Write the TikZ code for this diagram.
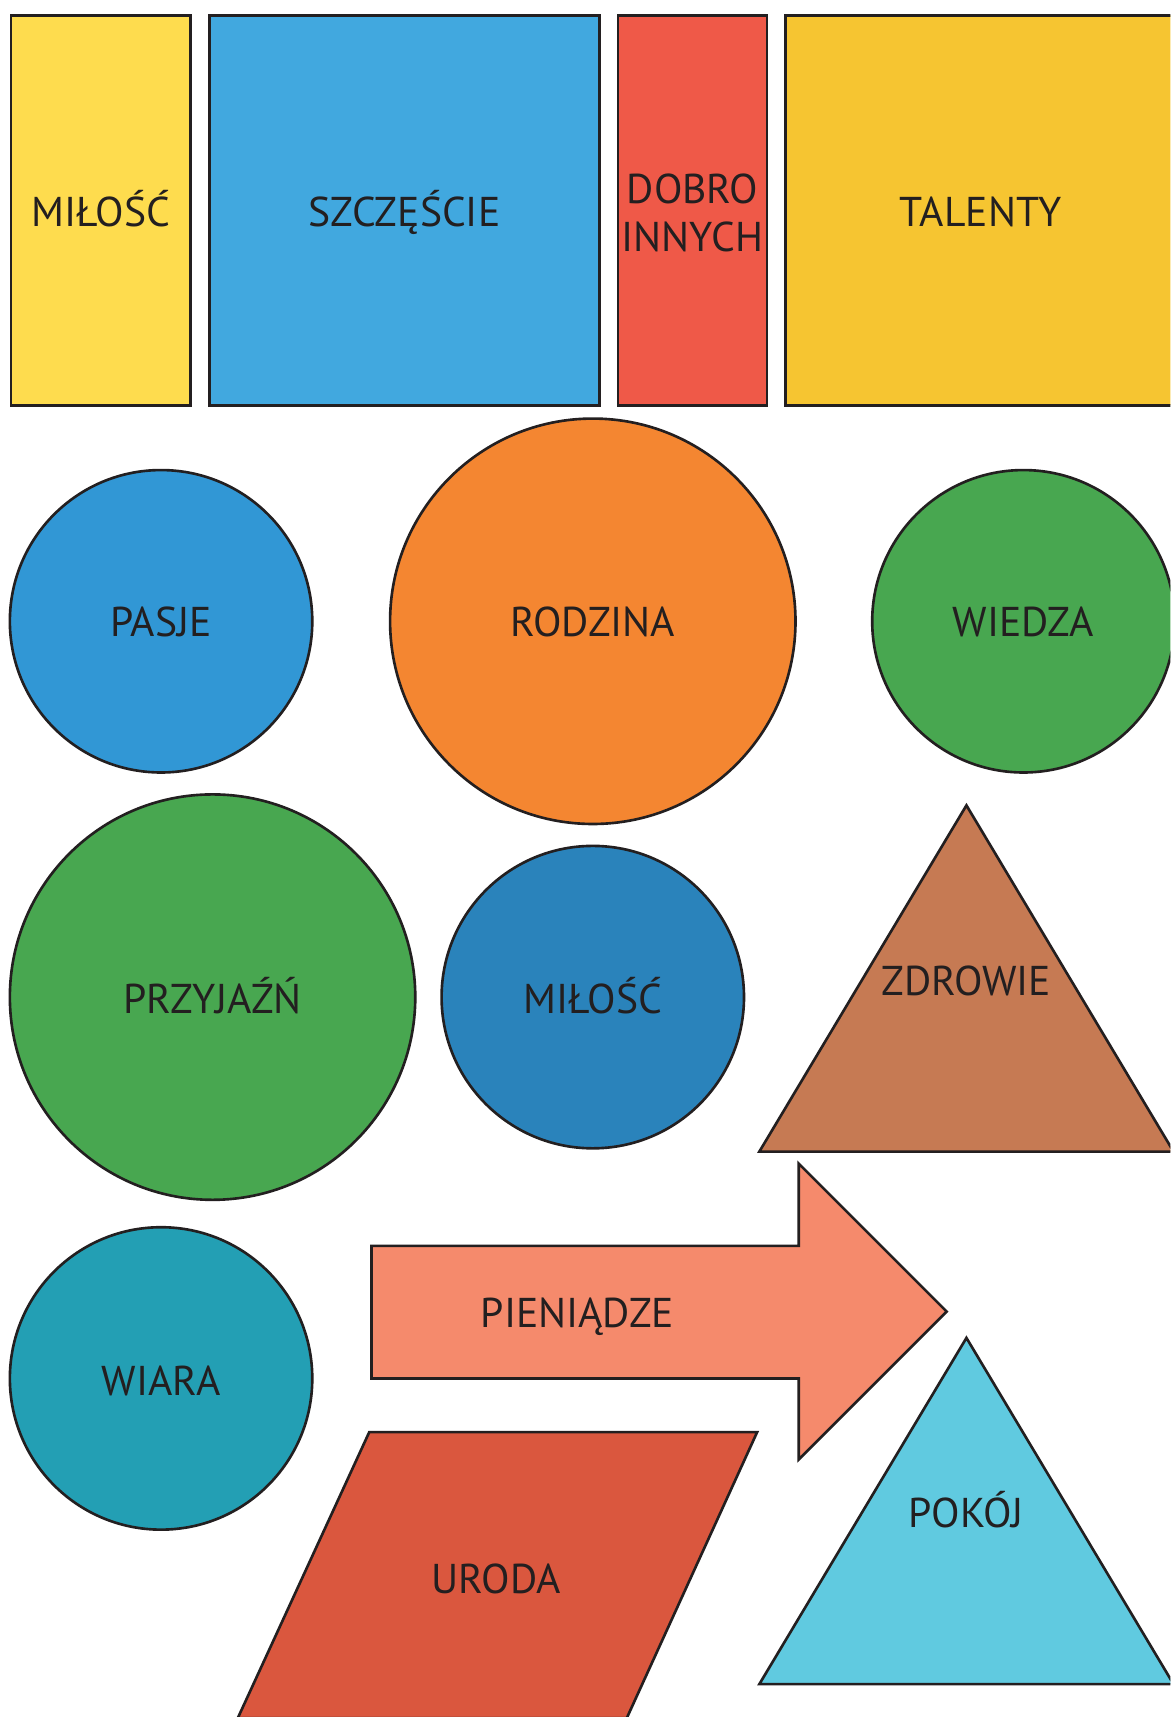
\documentclass[tikz,border=0pt]{standalone}
\usepackage{fontspec}
\setmainfont{PT Sans}
\usepackage{tikz}

\definecolor{edge}{HTML}{231F20}
\definecolor{yellowA}{HTML}{FEDC4E}
\definecolor{blueA}{HTML}{41A8DF}
\definecolor{redA}{HTML}{EF5948}
\definecolor{yellowB}{HTML}{F6C531}
\definecolor{blueB}{HTML}{3197D5}
\definecolor{orangeA}{HTML}{F48631}
\definecolor{greenA}{HTML}{48A750}
\definecolor{blueC}{HTML}{2A83BB}
\definecolor{brownA}{HTML}{C67A53}
\definecolor{salmonA}{HTML}{F58A6C}
\definecolor{tealA}{HTML}{239FB4}
\definecolor{redB}{HTML}{DA573E}
\definecolor{cyanA}{HTML}{60CAE0}

\tikzset{
  piece/.style={draw=edge,line width=1.2pt,line join=miter},
  word/.style={text=edge,font=\fontsize{19}{22}\selectfont,inner sep=0pt,
    text height=13.3pt,text depth=0pt},
  twoword/.style={text=edge,font=\fontsize{19}{22}\selectfont,inner sep=0pt,
    align=center},
}

\begin{document}
\begin{tikzpicture}[x=0.5pt,y=-0.5pt]
      \useasboundingbox (0,0) rectangle (1068,1567);
      \fill [white] (0,0) rectangle (1068,1567);
      \clip (0,0) rectangle (1068,1567);
      % top row
      \draw [piece,fill=yellowA] (10,14) rectangle (174,370);
      \draw [piece,fill=blueA] (191,14) rectangle (547,370);
      \draw [piece,fill=redA] (564,14) rectangle (700,370);
      \draw [piece,fill=yellowB] (717,14) rectangle (1090,370);
      \node [word] (milosc1) at (92,193) {MIŁOŚĆ};
      \node [word] (szczescie) at (369,193) {SZCZĘŚCIE};
      \node [twoword] (dobro) at (632,194) {DOBRO\\INNYCH};
      \node [word] (talenty) at (895,193) {TALENTY};
      % circles
      \draw [piece,fill=blueB] (147,567) circle [radius=138];
      \draw [piece,fill=orangeA] (541,567) circle [radius=185];
      \draw [piece,fill=greenA] (934,567) circle [radius=138];
      \draw [piece,fill=greenA] (194,910) circle [radius=185];
      \draw [piece,fill=blueC] (541,910) circle [radius=138];
      \draw [piece,fill=tealA] (147,1258) circle [radius=138];
      \node [word] (pasje) at (147,568) {PASJE};
      \node [word] (rodzina) at (541,568) {RODZINA};
      \node [word] (wiedza) at (934,568) {WIEDZA};
      \node [word] (przyjazn) at (194,912) {PRZYJAŹŃ};
      \node [word] (milosc2) at (541,912) {MIŁOŚĆ};
      \node [word] (wiara) at (147,1260) {WIARA};
      % triangles
      \draw [piece,fill=brownA] (882,735) -- (1071,1051) -- (693,1051) -- cycle;
      \draw [piece,fill=cyanA] (882,1221) -- (1071,1537) -- (693,1537) -- cycle;
      \node [word] (zdrowie) at (882,895) {ZDROWIE};
      \node [word] (pokoj) at (882,1381) {POKÓJ};
      % arrow
      \draw [piece,fill=salmonA] (339,1137) -- (729,1137) -- (729,1062) -- (864,1197)
        -- (729,1332) -- (729,1258) -- (339,1258) -- cycle;
      \node [word] (pieniadze) at (527,1198) {PIENIĄDZE};
      % parallelogram
      \draw [piece,fill=redB] (337,1307) -- (691,1307) -- (572,1568) -- (217,1568) -- cycle;
      \node [word] (uroda) at (453,1441) {URODA};
    \end{tikzpicture}
\end{document}
